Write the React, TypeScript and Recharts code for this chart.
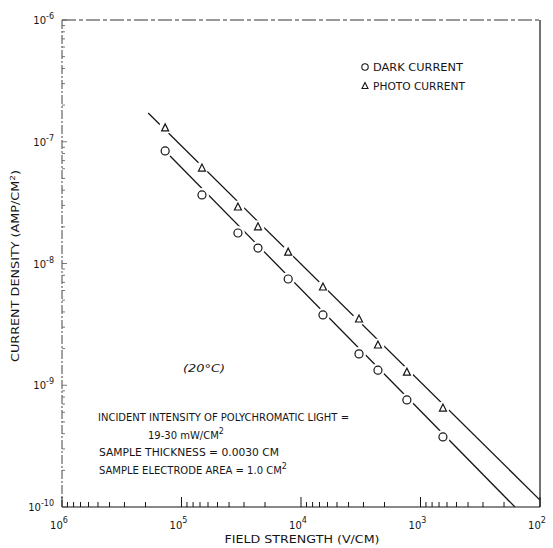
import { ScatterChart, Scatter, XAxis, YAxis, ReferenceLine } from 'recharts';

const fieldStrength = [1.37e5, 6.74e4, 3.37e4, 2.29e4, 1.28e4, 6.55e3, 3.27e3, 2.27e3, 1.3e3, 649];
const darkCurrent = [8.4e-8, 3.66e-8, 1.78e-8, 1.34e-8, 7.46e-9, 3.78e-9, 1.81e-9, 1.33e-9, 7.57e-10, 3.76e-10];
const photoCurrent = [1.3e-7, 6.08e-8, 2.91e-8, 2.0e-8, 1.24e-8, 6.41e-9, 3.5e-9, 2.14e-9, 1.28e-9, 6.5e-10];

// hand-drawn fit lines (end points)
const darkFitX = [1.37e5, 162];
const darkFitY = [8.4e-8, 1e-10];
const photoFitX = [1.9e5, 100];
const photoFitY = [1.72e-7, 1.14e-10];

// axis ticks
const xDecades = [1e2, 1e3, 1e4, 1e5];
const yDecades = [1e-10, 1e-9, 1e-8, 1e-7];
const steps = [1, 2, 3, 4, 5, 6, 7, 8, 9];
const xTicks = [...xDecades.flatMap((d) => steps.map((s) => s * d)), 1e6];
const yTicks = [...yDecades.flatMap((d) => steps.map((s) => s * d)), 1e-6];

const FONT = '"DejaVu Sans", sans-serif';
const INK = '#151515';

const darkData = fieldStrength.map((x, i) => ({ x, y: darkCurrent[i] }));
const photoData = fieldStrength.map((x, i) => ({ x, y: photoCurrent[i] }));
const darkFit = darkFitX.map((x, i) => ({ x, y: darkFitY[i] }));
const photoFit = photoFitX.map((x, i) => ({ x, y: photoFitY[i] }));

const exponent = (v: number) => {
  const l = Math.log10(v);
  const e = Math.round(l);
  return { e, major: Math.abs(l - e) < 1e-6 };
};

const XTick = ({ x, y, payload }: any) => {
  const { e, major } = exponent(payload.value);
  return (
    <g>
      <line x1={x} x2={x} y1={y} y2={y - (major ? 10 : 5)} stroke={INK} strokeWidth={1} />
      {major && (
        <text x={x - 3} y={y + 22} textAnchor="middle" fontFamily={FONT} fontSize={10} fill={INK}>
          10
          <tspan dy={-6} fontSize={8}>{e}</tspan>
        </text>
      )}
    </g>
  );
};

const YTick = ({ x, y, payload }: any) => {
  const { e, major } = exponent(payload.value);
  return (
    <g>
      <line x1={x} x2={x + (major ? 5 : 3)} y1={y} y2={y} stroke="#555" strokeWidth={0.8} />
      {major && (
        <text x={x - 8} y={y + 4} textAnchor="end" fontFamily={FONT} fontSize={10} fill={INK}>
          10
          <tspan dy={-5} fontSize={8}>{e}</tspan>
        </text>
      )}
    </g>
  );
};

const CircleMark = (p: any) => (
  <g>
    <circle cx={p.cx} cy={p.cy} r={7} fill="#fff" />
    <circle cx={p.cx} cy={p.cy} r={4} fill="#fff" stroke={INK} strokeWidth={1.2} />
  </g>
);

const TriangleMark = (p: any) => (
  <g>
    <circle cx={p.cx} cy={p.cy} r={6.5} fill="#fff" />
    <path
      d={`M${p.cx},${p.cy - 4}L${p.cx - 3.5},${p.cy + 3}L${p.cx + 3.5},${p.cy + 3}Z`}
      fill="#fff"
      stroke={INK}
      strokeWidth={1.2}
    />
  </g>
);

const NoMark = () => <g />;

const txt = { fontFamily: FONT, fontSize: 10, fill: INK, lengthAdjust: 'spacingAndGlyphs' as const };

export default function App() {
  return (
    <div style={{ position: 'relative', width: 553, height: 548, background: '#fff' }}>
      <style>{'body{margin:0}'}</style>
      <ScatterChart width={553} height={548} margin={{ top: 20, right: 13, bottom: 0, left: 0 }}>
        <XAxis
          dataKey="x"
          type="number"
          scale="log"
          domain={[100, 1e6]}
          reversed
          allowDataOverflow
          ticks={xTicks}
          interval={0}
          tick={<XTick />}
          tickLine={false}
          tickSize={0}
          tickMargin={0}
          height={41}
          axisLine={{ stroke: INK, strokeWidth: 1.2 }}
        />
        <YAxis
          dataKey="y"
          type="number"
          scale="log"
          domain={[1e-10, 1e-6]}
          allowDataOverflow
          ticks={yTicks}
          interval={0}
          tick={<YTick />}
          tickLine={false}
          tickSize={0}
          tickMargin={0}
          width={62}
          axisLine={{ stroke: '#444', strokeWidth: 1, strokeDasharray: '9 2 2 2' }}
        />
        <ReferenceLine y={1e-6} stroke="#333" strokeWidth={1} strokeDasharray="14 3 4 3" />
        <ReferenceLine x={100} stroke={INK} strokeWidth={1.2} />
        <Scatter data={darkFit} shape={NoMark} line={{ stroke: INK, strokeWidth: 1.3 }} isAnimationActive={false} />
        <Scatter data={photoFit} shape={NoMark} line={{ stroke: INK, strokeWidth: 1.3 }} isAnimationActive={false} />
        <Scatter data={darkData} shape={CircleMark} isAnimationActive={false} />
        <Scatter data={photoData} shape={TriangleMark} isAnimationActive={false} />
      </ScatterChart>

      <svg width={553} height={548} style={{ position: 'absolute', left: 0, top: 0, pointerEvents: 'none' }}>
        <text transform="rotate(-90)" x={-266} y={19} textAnchor="middle" {...txt} textLength={192}>
          CURRENT DENSITY (AMP/CM<tspan dy={-4} fontSize={7}>2</tspan>
          <tspan dy={4}>)</tspan>
        </text>
        <text x={302} y={543} textAnchor="middle" {...txt} textLength={155}>
          FIELD STRENGTH (V/CM)
        </text>

        <circle cx={365} cy={67} r={3.2} fill="#fff" stroke={INK} strokeWidth={1.1} />
        <text x={373} y={71} {...txt} textLength={90}>DARK CURRENT</text>
        <path d="M365,82.5L362,88.5L368,88.5Z" fill="#fff" stroke={INK} strokeWidth={1.1} />
        <text x={373} y={90} {...txt} textLength={92}>PHOTO CURRENT</text>

        <text x={204} y={372} textAnchor="middle" {...txt} fontStyle="italic" textLength={42}>(20°C)</text>

        <text x={98} y={421} {...txt} textLength={251}>INCIDENT INTENSITY OF POLYCHROMATIC LIGHT =</text>
        <text x={148} y={439} {...txt}>
          19-30 mW/CM<tspan dy={-5} fontSize={8}>2</tspan>
        </text>
        <text x={99} y={456} {...txt} textLength={180}>SAMPLE THICKNESS = 0.0030 CM</text>
        <text x={99} y={474} {...txt}>
          SAMPLE ELECTRODE AREA = 1.0 CM<tspan dy={-5} fontSize={8}>2</tspan>
        </text>
      </svg>
    </div>
  );
}
